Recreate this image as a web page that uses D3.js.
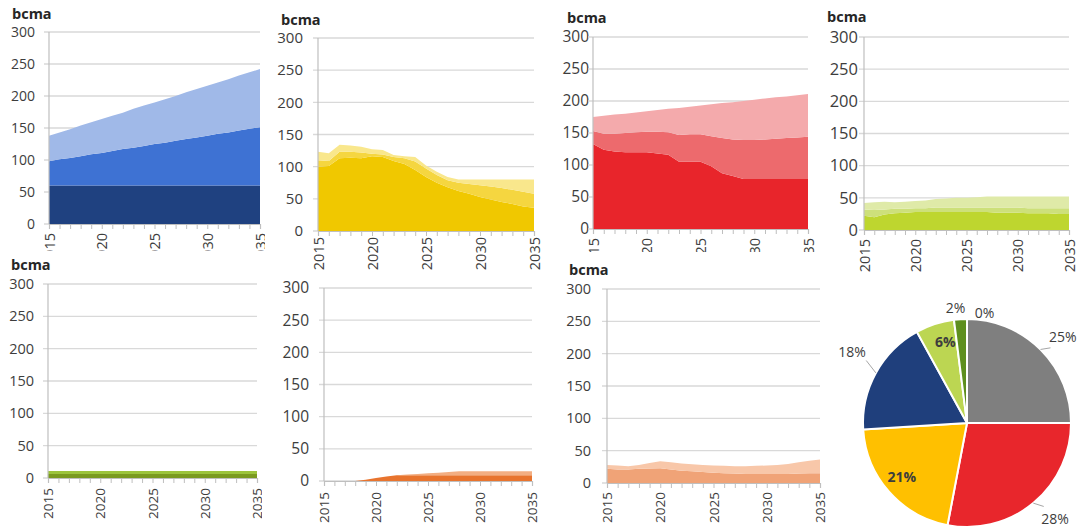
<!DOCTYPE html>
<html>
<head>
<meta charset="utf-8">
<script src="https://cdn.jsdelivr.net/npm/d3@7"></script>
<style>
  body { margin: 0; background: #fff; }
  svg { display: block; font-family: "Open Sans", sans-serif; }
</style>
</head>
<body>
<svg id="chart" width="1078" height="528"></svg>
<script>
// ---- Data (bcma) ----
const years = [2015, 2016, 2017, 2018, 2019, 2020, 2021, 2022, 2023, 2024, 2025,
               2026, 2027, 2028, 2029, 2030, 2031, 2032, 2033, 2034, 2035];
const yTicks = [0, 50, 100, 150, 200, 250, 300];
const labelYears = [2015, 2020, 2025, 2030, 2035];
const unitLabel = "bcma";

// Blue panel layers (bottom to top)
const blueBase = [60, 60, 60, 60, 60, 60, 60, 60, 60, 60, 60, 60, 60, 60, 60, 60, 60, 60, 60, 60, 60];
const blueMid  = [38, 41, 43, 46, 49, 51, 54, 57, 59, 62, 65, 67, 70, 73, 75, 78, 81, 83, 86, 89, 91];
const blueTop  = [40, 42, 45, 48, 50, 53, 55, 57, 61, 63, 65, 68, 70, 73, 76, 78, 80, 83, 86, 88, 91];

// Yellow panel layers
const yellowBase = [100, 101, 113, 114, 113, 116, 115, 109, 104, 95, 84, 75, 68, 62, 58, 53, 49, 45, 42, 38, 36];
const yellowMid  = [10, 8, 10, 9, 9, 4, 4, 6, 9, 13, 13, 12, 11, 13, 15, 18, 20, 22, 22, 23, 22];
const yellowTop  = [13, 12, 11, 10, 9, 7, 7, 3, 3, 7, 5, 5, 5, 5, 7, 9, 11, 13, 16, 19, 22];

// Red panel layers
const redBase = [133, 124, 121, 120, 120, 120, 118, 116, 105, 105, 105, 98, 87, 83, 78, 78, 78, 78, 78, 78, 78];
const redMid  = [20, 25, 28, 30, 31, 32, 34, 35, 42, 43, 43, 47, 55, 57, 61, 61, 62, 63, 64, 65, 66];
const redTop  = [22, 28, 30, 30, 31, 32, 34, 37, 42, 43, 45, 50, 55, 58, 61, 63, 64, 65, 65, 66, 67];

// Light green panel layers
const greenBase = [22, 20, 24, 26, 27, 28, 28, 28, 28, 28, 28, 28, 28, 27, 27, 27, 26, 26, 26, 25, 25];
const greenMid  = [10, 11, 8, 7, 6, 6, 6, 7, 7, 7, 7, 7, 7, 8, 8, 8, 8, 8, 8, 9, 9];
const greenTop  = [10, 12, 12, 10, 11, 11, 12, 13, 14, 15, 15, 16, 17, 17, 17, 17, 18, 18, 18, 18, 18];

// Olive panel layers
const oliveBase = [6, 6, 6, 6, 6, 6, 6, 6, 6, 6, 6, 6, 6, 6, 6, 6, 6, 6, 6, 6, 6];
const oliveTop  = [5, 5, 5, 5, 5, 5, 5, 5, 5, 5, 5, 5, 5, 5, 5, 5, 5, 5, 5, 5, 5];

// Orange panel layers
const orangeBase = [0, 0, 0, 0, 2, 4.5, 7, 9, 9, 9, 9, 9, 9, 9, 9, 9, 9, 9, 9, 9, 9];
const orangeTop  = [0, 0, 0, 0, 0, 0, 0, 0, 1, 2, 3, 4, 5, 6, 6, 6, 6, 6, 6, 6, 6];

// Salmon panel layers
const salmonBase = [22, 21, 21, 22, 22.5, 23, 21, 19, 18, 17, 16, 15, 14.5, 14, 14, 14, 14, 14, 14.5, 15, 15];
const salmonTop  = [6, 6, 5, 6, 8.5, 10.5, 11, 11, 11, 11, 11, 11.5, 11.5, 12, 12.5, 13, 14, 15.5, 17.5, 19.5, 21.5];

// Pie shares (%)
const pieValues = [25, 28, 21, 18, 6, 2, 0];
const pieColors = ["#7f7f7f", "#e8262c", "#ffc000", "#1f3f7c", "#bcd652", "#5e8f1e", "#3f6f12"];

// ---- Layout ----
const svg = d3.select("#chart");
const defs = svg.append("defs");

const panels = [
  { id: "p1", layers: [blueBase, blueMid, blueTop], colors: ["#1f4180", "#3e72d3", "#a0b9e8"],
    x0: 49, x1: 260, yTop: 32, yBot: 224, clip: [0, 0, 265, 251],
    yGap: 14, yFs: 14, xGap: 9, xFs: 14.5, unit: [12, 19] },
  { id: "p2", layers: [yellowBase, yellowMid, yellowTop], colors: ["#f0c800", "#f5d640", "#f9e78c"],
    x0: 318, x1: 534, yTop: 38, yBot: 231, clip: [265, 0, 276, 278],
    yGap: 15, yFs: 15, xGap: 6, xFs: 14.5, unit: [281, 25] },
  { id: "p3", layers: [redBase, redMid, redTop], colors: ["#e8252b", "#ed6a6d", "#f4aaac"],
    x0: 593, x1: 808, yTop: 37, yBot: 229, clip: [541, 0, 274, 252],
    yGap: 4, yFs: 15.5, xGap: 9, xFs: 14.5, unit: [567, 23] },
  { id: "p4", layers: [greenBase, greenMid, greenTop], colors: ["#bed62f", "#cde07a", "#dfeaa8"],
    x0: 864, x1: 1069, yTop: 37, yBot: 230, clip: [815, 0, 263, 280],
    yGap: 6, yFs: 16.5, xGap: 9, xFs: 14.5, unit: [827, 22] },
  { id: "p5", layers: [oliveBase, oliveTop], colors: ["#7a9a20", "#9cc43c"],
    x0: 48, x1: 257, yTop: 284, yBot: 478, clip: [0, 255, 262, 273],
    yGap: 14, yFs: 14.5, xGap: 10, xFs: 13.5, unit: [11, 270] },
  { id: "p6", layers: [orangeBase, orangeTop], colors: ["#e8742e", "#f3ae82"],
    x0: 324, x1: 532, yTop: 288, yBot: 481, clip: [265, 278, 276, 250],
    yGap: 15, yFs: 15.5, xGap: 11, xFs: 13.5, unit: null },
  { id: "p7", layers: [salmonBase, salmonTop], colors: ["#f0a377", "#f8c7a9"],
    x0: 607, x1: 820, yTop: 289, yBot: 483, clip: [541, 255, 289, 273],
    yGap: 16, yFs: 14.5, xGap: 9, xFs: 13.5, unit: [569, 275] }
];

const textColor = "#3d3d3d";
const gridColor = "#d9d9d9";
const axisColor = "#bfbfbf";

panels.forEach(p => {
  defs.append("clipPath").attr("id", "clip-" + p.id)
    .append("rect")
    .attr("x", p.clip[0]).attr("y", p.clip[1])
    .attr("width", p.clip[2]).attr("height", p.clip[3]);

  const g = svg.append("g").attr("clip-path", `url(#clip-${p.id})`);

  const x = d3.scaleLinear().domain([years[0], years[years.length - 1]]).range([p.x0, p.x1]);
  const y = d3.scaleLinear().domain([0, 300]).range([p.yBot, p.yTop]);

  // Value axis labels
  g.append("g")
    .attr("transform", `translate(${p.x0},0)`)
    .call(d3.axisLeft(y).tickValues(yTicks).tickSize(0).tickPadding(p.yGap))
    .call(a => a.select(".domain").remove())
    .call(a => a.selectAll(".tick text")
      .attr("fill", textColor).attr("font-size", p.yFs).attr("font-family", "Open Sans"));

  // Horizontal gridlines with short outside ticks
  g.append("g").selectAll("line").data(yTicks).join("line")
    .attr("x1", p.x0 - 5).attr("x2", p.x1)
    .attr("y1", d => y(d)).attr("y2", d => y(d))
    .attr("stroke", gridColor).attr("stroke-width", 1.4);

  // Stacked areas
  const rows = years.map((yr, i) => {
    const r = { year: yr };
    p.layers.forEach((arr, k) => { r["s" + k] = arr[i]; });
    return r;
  });
  const keys = p.layers.map((_, k) => "s" + k);
  const stacked = d3.stack().keys(keys)(rows);
  const area = d3.area()
    .x(d => x(d.data.year))
    .y0(d => y(d[0]))
    .y1(d => y(d[1]));
  g.append("g").selectAll("path").data(stacked).join("path")
    .attr("d", area)
    .attr("fill", (d, i) => p.colors[i]);

  // Vertical axis line
  g.append("line")
    .attr("x1", p.x0).attr("x2", p.x0)
    .attr("y1", p.yTop).attr("y2", p.yBot)
    .attr("stroke", axisColor).attr("stroke-width", 1.2);

  // Category axis with yearly ticks and rotated labels
  const xa = g.append("g")
    .attr("transform", `translate(0,${p.yBot})`)
    .call(d3.axisBottom(x).tickValues(years).tickSize(5)
      .tickFormat(d => labelYears.includes(d) ? String(d) : ""));
  xa.select(".domain").attr("stroke", axisColor).attr("stroke-width", 1.2);
  xa.selectAll(".tick line").attr("stroke", axisColor);
  xa.selectAll(".tick text")
    .attr("transform", "rotate(-90)")
    .attr("text-anchor", "end")
    .attr("x", -p.xGap).attr("y", 0).attr("dy", "0.35em")
    .attr("fill", textColor).attr("font-size", p.xFs).attr("font-family", "Open Sans");

  if (p.unit) {
    g.append("text")
      .attr("x", p.unit[0]).attr("y", p.unit[1])
      .attr("font-size", 14.5).attr("font-weight", "bold")
      .attr("fill", "#262626")
      .text(unitLabel);
  }
});

// ---- Pie ----
const pieCenter = [967, 423];
const pieR = 104;
const labelRadius = [1.24, 1.25, 0.81, 1.3, 0.81, 1.12, 1.08];
const labelShiftDeg = [3, -3, 2, 3, 3, -2, 9];
const insideLabel = [false, false, true, false, true, false, false];
const leaderLabel = [true, true, false, true, false, false, false];

const pg = svg.append("g").attr("transform", `translate(${pieCenter[0]},${pieCenter[1]})`);
const arcs = d3.pie().sort(null).value(d => d)(pieValues);
const arc = d3.arc().innerRadius(0).outerRadius(pieR);

pg.selectAll("path").data(arcs.filter(a => a.value > 0)).join("path")
  .attr("d", arc)
  .attr("fill", a => pieColors[a.index])
  .attr("stroke", "#fff").attr("stroke-width", 2);

const polar = (ang, r) => [r * Math.sin(ang), -r * Math.cos(ang)];

arcs.forEach((a, i) => {
  const mid = (a.startAngle + a.endAngle) / 2;
  const la = mid + labelShiftDeg[i] * Math.PI / 180;
  const pos = polar(la, labelRadius[i] * pieR);
  if (leaderLabel[i]) {
    const p0 = polar(mid, pieR);
    const p1 = polar(la, (labelRadius[i] - 0.16) * pieR);
    pg.append("line")
      .attr("x1", p0[0]).attr("y1", p0[1]).attr("x2", p1[0]).attr("y2", p1[1])
      .attr("stroke", "#a6a6a6").attr("stroke-width", 1);
  }
  pg.append("text")
    .attr("x", pos[0]).attr("y", pos[1])
    .attr("text-anchor", "middle").attr("dominant-baseline", "central")
    .attr("font-size", 14)
    .attr("font-weight", insideLabel[i] ? "bold" : "normal")
    .attr("fill", textColor)
    .text(a.value + "%");
});
</script>
</body>
</html>
